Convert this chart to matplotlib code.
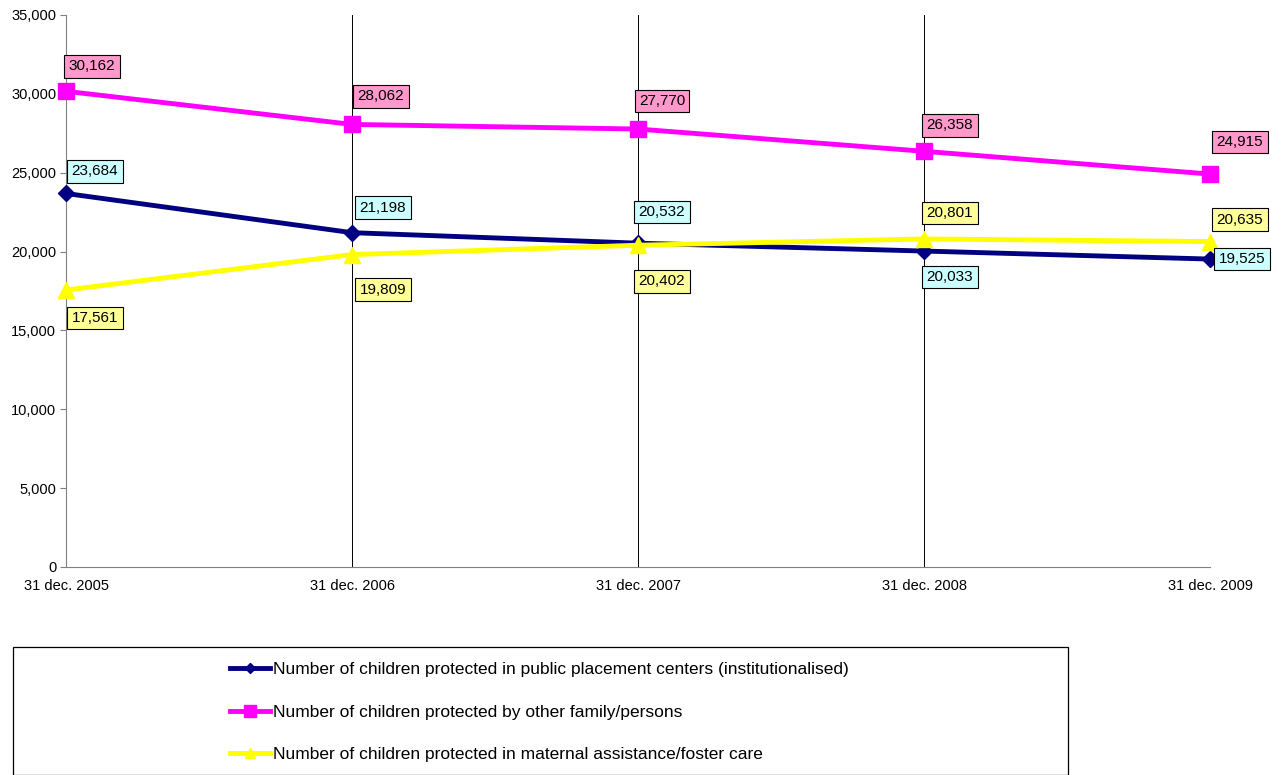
import matplotlib
matplotlib.use('Agg')
import matplotlib.pyplot as plt
from matplotlib.ticker import FuncFormatter
from matplotlib.patches import Rectangle

plt.rcParams['font.family'] = ['Liberation Sans', 'DejaVu Sans']

dates = ['31 dec. 2005', '31 dec. 2006', '31 dec. 2007', '31 dec. 2008', '31 dec. 2009']
institutionalised = [23684, 21198, 20532, 20033, 19525]
other_family = [30162, 28062, 27770, 26358, 24915]
foster_care = [17561, 19809, 20402, 20801, 20635]

names = ['Number of children protected in public placement centers (institutionalised)',
         'Number of children protected by other family/persons',
         'Number of children protected in maternal assistance/foster care']

# label offsets in pixels (dx, dy) from the point
off_inst = [(29, 22), (31, 25), (24, 31), (26, -26), (32, 0)]
off_other = [(26, 25), (29, 28), (24, 28), (26, 26), (30, 32)]
off_foster = [(29, -28), (31, -35), (24, -36), (26, 26), (30, 22)]

W, H = 1282, 775
fig = plt.figure(figsize=(W/100, H/100), dpi=100)
ax = fig.add_axes([66/W, 1-567/H, (1210-66)/W, (567-15)/H])

x = list(range(len(dates)))
series = [
    (institutionalised, '#000080', 'D', 8, '#CCFFFF', off_inst),
    (other_family, '#FF00FF', 's', 12, '#FF99CC', off_other),
    (foster_care, '#FFFF00', '^', 11, '#FFFF99', off_foster),
]
handles = []
for (vals, col, mk, ms, bg, offs), name in zip(series, names):
    h, = ax.plot(x, vals, color=col, lw=3.5, marker=mk, markersize=ms,
                 label=name, clip_on=False, zorder=3)
    handles.append(h)
    for xi, v, (dx, dy) in zip(x, vals, offs):
        ax.annotate(f'{v:,}', (xi, v), xytext=(dx*0.72, dy*0.72),
                    textcoords='offset points', ha='center', va='center',
                    fontsize=11, zorder=5,
                    bbox=dict(boxstyle='square,pad=0.28', fc=bg, ec='black', lw=0.8))

ax.set_xlim(0, 4)
ax.set_ylim(0, 35000)
ax.set_yticks(range(0, 35001, 5000))
ax.yaxis.set_major_formatter(FuncFormatter(lambda v, p: f'{int(v):,}'))
ax.set_xticks(x)
ax.set_xticklabels(dates)
ax.tick_params(axis='x', length=0, pad=9, labelsize=10.5)
ax.tick_params(axis='y', length=4, labelsize=10.5, color='#808080', pad=3)
ax.grid(axis='x', color='black', lw=0.7)
for s in ['top', 'right']:
    ax.spines[s].set_visible(False)
ax.spines['left'].set_color('#808080')
ax.spines['bottom'].set_color('#808080')

# legend box
fig.patches.append(Rectangle((13/W, 0), (1068-13)/W, 1-647/H,
                             transform=fig.transFigure, fill=False,
                             ec='black', lw=0.9))
leg = fig.legend(handles=handles, loc='upper left',
                 bbox_to_anchor=(230/W, 1-662/H), frameon=False,
                 fontsize=12.5, handlelength=2.3, handletextpad=0.15,
                 labelspacing=1.58, borderpad=0, borderaxespad=0,
                 markerscale=0.7)

fig.savefig('out.png', dpi=100)
